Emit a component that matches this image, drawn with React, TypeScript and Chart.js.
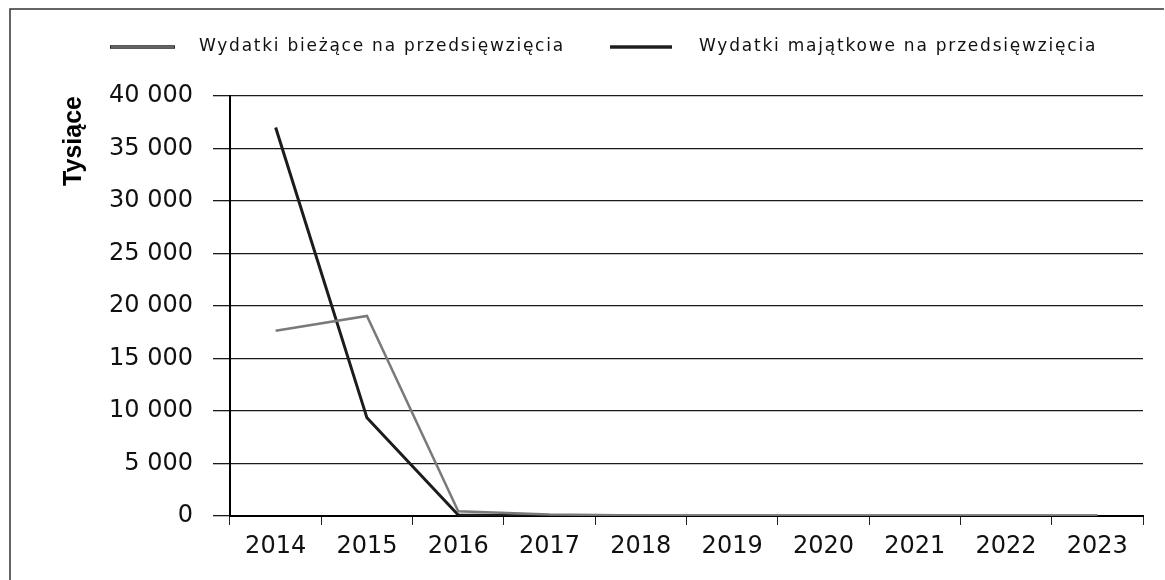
import React, { useEffect, useRef } from "react";
import { Chart, registerables } from "chart.js";

Chart.register(...registerables);

const years = ["2014", "2015", "2016", "2017", "2018", "2019", "2020", "2021", "2022", "2023"];
const biezace = [17650, 19050, 450, 150, 50, 20, 0, 0, 0, 0];
const majatkowe = [37000, 9350, 100, 0, 0, 0, 0, 0, 0, 0];
const seriesLabels = ["Wydatki bieżące na przedsięwzięcia", "Wydatki majątkowe na przedsięwzięcia"];
const seriesColors = ["#7a7a7a", "#1c1c1c"];
const yMax = 40000;
const yStep = 5000;
const yTitle = "Tysiące";

const fmt = (v: number) => String(v).replace(/\B(?=(\d{3})+(?!\d))/g, " ");

const framePlugin = {
  id: "frame",
  beforeDraw(chart: any) {
    const ctx = chart.ctx;
    ctx.save();
    ctx.fillStyle = "#ffffff";
    ctx.fillRect(0, 0, chart.width, chart.height);
    ctx.strokeStyle = "#333";
    ctx.lineWidth = 1.5;
    ctx.beginPath();
    ctx.moveTo(10, chart.height);
    ctx.lineTo(10, 9);
    ctx.lineTo(chart.width - 1, 9);
    ctx.stroke();
    ctx.restore();
  },
};

const legendPlugin = {
  id: "customLegend",
  afterDraw(chart: any) {
    const ctx = chart.ctx;
    const slots = [
      { x0: 110, x1: 175, tx: 199, tw: 366 },
      { x0: 610, x1: 672, tx: 699, tw: 398 },
    ];
    const y = 47;
    ctx.save();
    chart.data.datasets.forEach((ds: any, i: number) => {
      const s = slots[i];
      ctx.strokeStyle = "#222";
      ctx.lineWidth = 3.5;
      ctx.beginPath();
      ctx.moveTo(s.x0, y);
      ctx.lineTo(s.x1, y);
      ctx.stroke();
      ctx.strokeStyle = ds.borderColor;
      ctx.lineWidth = 1.5;
      ctx.beginPath();
      ctx.moveTo(s.x0 + 1, y);
      ctx.lineTo(s.x1 - 1, y);
      ctx.stroke();
      ctx.font = "17px 'DejaVu Sans'";
      (ctx as any).letterSpacing = "0px";
      const w = ctx.measureText(ds.label).width;
      const sp = Math.max(0, (s.tw - w) / ds.label.length);
      (ctx as any).letterSpacing = sp.toFixed(2) + "px";
      ctx.fillStyle = "#111";
      ctx.textBaseline = "middle";
      ctx.textAlign = "left";
      ctx.fillText(ds.label, s.tx, y);
    });
    (ctx as any).letterSpacing = "0px";
    ctx.restore();
  },
};

export default function App() {
  const ref = useRef<HTMLCanvasElement | null>(null);
  useEffect(() => {
    if (!ref.current) return;
    const chart = new Chart(ref.current, {
      type: "line",
      data: {
        labels: years,
        datasets: [
          {
            label: seriesLabels[0],
            data: biezace,
            borderColor: seriesColors[0],
            borderWidth: 2.5,
            pointRadius: 0,
            tension: 0,
            fill: false,
          },
          {
            label: seriesLabels[1],
            data: majatkowe,
            borderColor: seriesColors[1],
            borderWidth: 3,
            pointRadius: 0,
            tension: 0,
            fill: false,
          },
        ],
      },
      options: {
        responsive: false,
        animation: false,
        layout: { padding: { left: 59, right: 22, top: 96, bottom: 0 } },
        plugins: {
          legend: { display: false },
          tooltip: { enabled: false },
        },
        scales: {
          x: {
            offset: true,
            grid: {
              offset: true,
              drawOnChartArea: false,
              drawTicks: true,
              tickLength: 9,
              color: "#222",
              lineWidth: 1,
            },
            border: { color: "#000", width: 2 },
            ticks: {
              font: { family: "'DejaVu Sans'", size: 24 },
              color: "#111",
              padding: 7,
              maxRotation: 0,
              autoSkip: false,
            },
            afterFit: (s: any) => {
              s.height = 64;
            },
          },
          y: {
            min: 0,
            max: yMax,
            ticks: {
              stepSize: yStep,
              font: { family: "'DejaVu Sans'", size: 24 },
              color: "#111",
              padding: 20,
              callback: (v: any) => fmt(Number(v)),
            },
            grid: {
              color: "#1a1a1a",
              lineWidth: 1.3,
              tickLength: 17,
            },
            border: { color: "#000", width: 2 },
            title: {
              display: true,
              text: yTitle,
              align: "end",
              font: { family: "'Liberation Sans Narrow', 'Liberation Sans'", size: 25, weight: "bold" },
              color: "#000",
              padding: { top: 0, bottom: 0 },
            },
            afterFit: (s: any) => {
              s.width = 171;
            },
          },
        },
      },
      plugins: [framePlugin, legendPlugin],
    } as any);
    return () => chart.destroy();
  }, []);
  return (
    <div style={{ position: "absolute", left: 0, top: 0, width: 1165, height: 580, background: "#fff" }}>
      <canvas ref={ref} width={1165} height={580} style={{ display: "block" }} />
    </div>
  );
}
